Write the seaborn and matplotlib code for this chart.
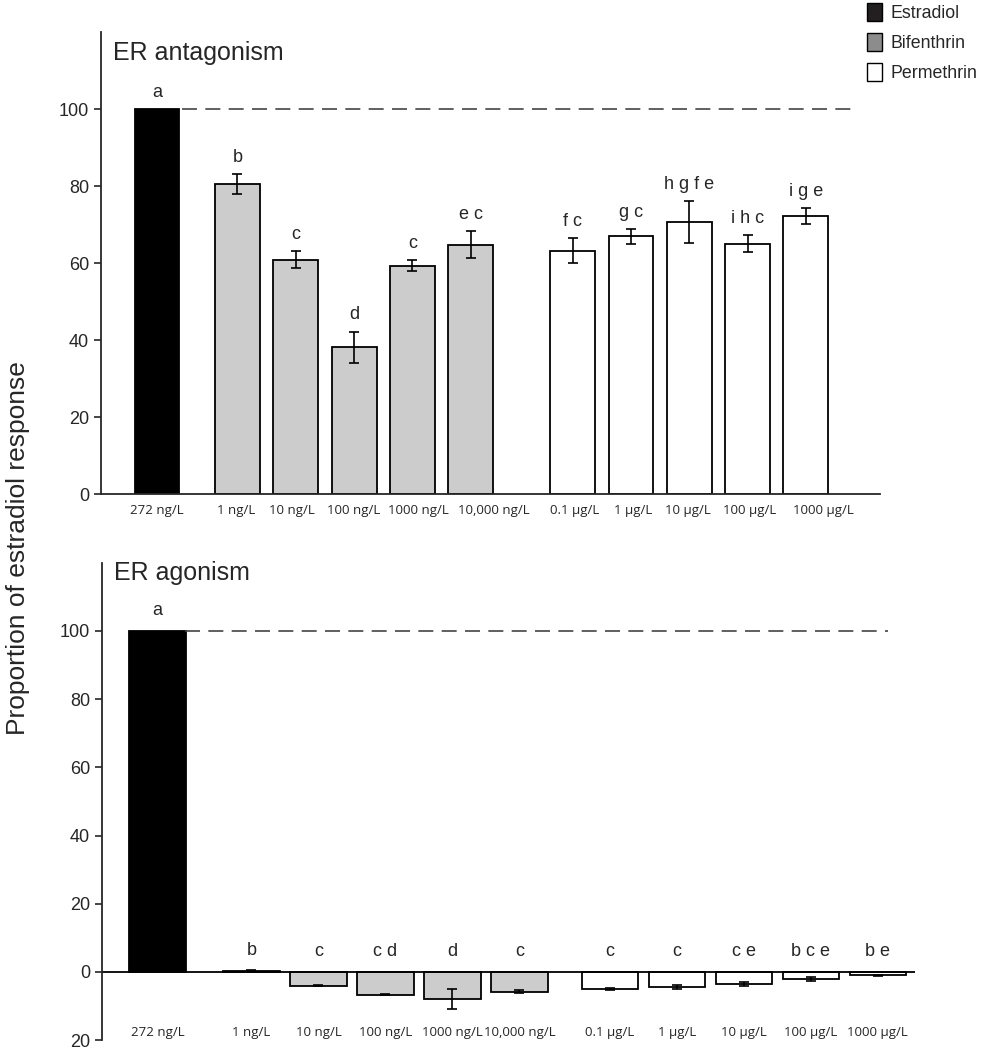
import numpy as np
import pandas as pd
import seaborn as sns
import matplotlib.pyplot as plt
from matplotlib.patches import Patch

# concentrations and compounds
conc = ['272 ng/L',
        '1 ng/L', '10 ng/L', '100 ng/L', '1000 ng/L', '10,000 ng/L',
        '0.1 μg/L', '1 μg/L', '10 μg/L', '100 μg/L', '1000 μg/L']
compound = ['Estradiol'] + ['Bifenthrin'] * 5 + ['Permethrin'] * 5

# ER antagonism (proportion of estradiol response, mean and SE)
antag_mean = [100, 80.5, 60.8, 38.1, 59.3, 64.8, 63.2, 66.9, 70.7, 65.0, 72.2]
antag_sem = [0, 2.5, 2.2, 4.0, 1.4, 3.5, 3.2, 1.9, 5.4, 2.2, 2.1]
antag_letters = ['a', 'b', 'c', 'd', 'c', 'e c', 'f c', 'g c', 'h g f e', 'i h c', 'i g e']

# ER agonism
agon_mean = [100, 0.3, -4.1, -6.7, -8.0, -5.8, -5.0, -4.4, -3.6, -2.1, -1.0]
agon_sem = [0, 0.2, 0.1, 0.1, 3.0, 0.4, 0.3, 0.5, 0.6, 0.7, 0.2]
agon_letters = ['a', 'b', 'c', 'c d', 'd', 'c', 'c', 'c', 'c e', 'b c e', 'b e']

fill = {'Estradiol': 'black', 'Bifenthrin': '#cccccc', 'Permethrin': 'white'}

sns.set_style('ticks')
plt.rcParams['font.family'] = ['Liberation Sans', 'DejaVu Sans']


def bar_positions(bif_start, perm_start):
    # estradiol at 0, then the two compound groups
    return np.array([0] + [bif_start + i for i in range(5)] + [perm_start + i for i in range(5)], dtype=float)


def draw_panel(ax, mean, sem, pos, width, title, title_y):
    df = pd.DataFrame({'pos': pos, 'value': mean, 'compound': compound})
    sns.barplot(data=df, x='pos', y='value', hue='compound', palette=fill,
                native_scale=True, dodge=False, width=width, errorbar=None,
                edgecolor='black', linewidth=1.3, legend=False, ax=ax)
    sem = np.array(sem)
    m = sem > 0
    ax.errorbar(pos[m], np.array(mean)[m], yerr=sem[m], fmt='none',
                ecolor='black', elinewidth=1.2, capsize=3.5, capthick=1.2)
    ax.text(0.015, title_y, title, transform=ax.transAxes, fontsize=18,
            va='center', ha='left')
    sns.despine(ax=ax)
    ax.set_xlabel('')
    ax.set_ylabel('')
    ax.tick_params(axis='x', length=0)
    ax.tick_params(axis='y', labelsize=13, length=5, width=1.2, direction='out')
    ax.spines['left'].set_linewidth(1.3)
    ax.spines['bottom'].set_linewidth(1.3)


tick_font = dict(fontsize=9.5, family=['Open Sans', 'DejaVu Sans'])

fig = plt.figure(figsize=(9.81, 10.5), dpi=100)

# top panel: ER antagonism
ax1 = fig.add_axes([0.103, 0.5295, 0.794, 0.44])
pos1 = bar_positions(1.38, 7.13)
draw_panel(ax1, antag_mean, antag_sem, pos1, 0.77, 'ER antagonism', 0.955)
ax1.set_ylim(0, 120)
ax1.set_xlim(-0.96, 12.40)
ax1.set_yticks([0, 20, 40, 60, 80, 100])
# a few concentration labels sit a little right of their bars in the original
label_shift1 = np.array([0, -0.03, -0.06, 0, 0.11, 0.4, 0.03, 0.03, -0.03, 0.04, 0.3])
ax1.set_xticks(pos1 + label_shift1)
ax1.set_xticklabels(conc, **tick_font)
ax1.tick_params(axis='x', pad=7)
ax1.hlines(100, 0.43, 11.92, colors='#444444', linestyles=(0, (9, 5)), linewidth=1.2)
for x, y, e, t in zip(pos1, antag_mean, antag_sem, antag_letters):
    ax1.text(x, y + e + 2.2, t, ha='center', va='bottom', fontsize=13)

# bottom panel: ER agonism
ax2 = fig.add_axes([0.104, 0.0095, 0.829, 0.4545])
pos2 = bar_positions(1.40, 6.75)
draw_panel(ax2, agon_mean, agon_sem, pos2, 0.84, 'ER agonism', 0.978)
ax2.set_ylim(-20, 120)
ax2.set_xlim(-0.83, 11.31)
ax2.set_yticks([-20, 0, 20, 40, 60, 80, 100])
ax2.set_yticklabels(['20', '0', '20', '40', '60', '80', '100'])
ax2.set_xticks(pos2)
ax2.set_xticklabels(conc, **tick_font)
ax2.spines['bottom'].set_visible(False)
ax2.axhline(0, color='black', linewidth=1.3)
ax2.tick_params(axis='x', pad=-10)
ax2.hlines(100, 0.41, 10.9, colors='#444444', linestyles=(0, (9, 5)), linewidth=1.2)
for x, y, t in zip(pos2, agon_mean, agon_letters):
    ax2.text(x, max(y, 0) + 3.5, t, ha='center', va='bottom', fontsize=13)

fig.text(0.018, 0.478, 'Proportion of estradiol response', rotation=90,
         ha='center', va='center', fontsize=19)

handles = [Patch(facecolor='#231f20', edgecolor='black'),
           Patch(facecolor='#8c8c8c', edgecolor='black'),
           Patch(facecolor='white', edgecolor='black')]
fig.legend(handles, ['Estradiol', 'Bifenthrin', 'Permethrin'], loc='upper left',
           bbox_to_anchor=(0.884, 0.997), frameon=False, fontsize=12.8,
           handlelength=0.85, handleheight=1.15, handletextpad=0.45,
           labelspacing=0.62, borderaxespad=0, borderpad=0)

fig.savefig('out.png', dpi=100)
